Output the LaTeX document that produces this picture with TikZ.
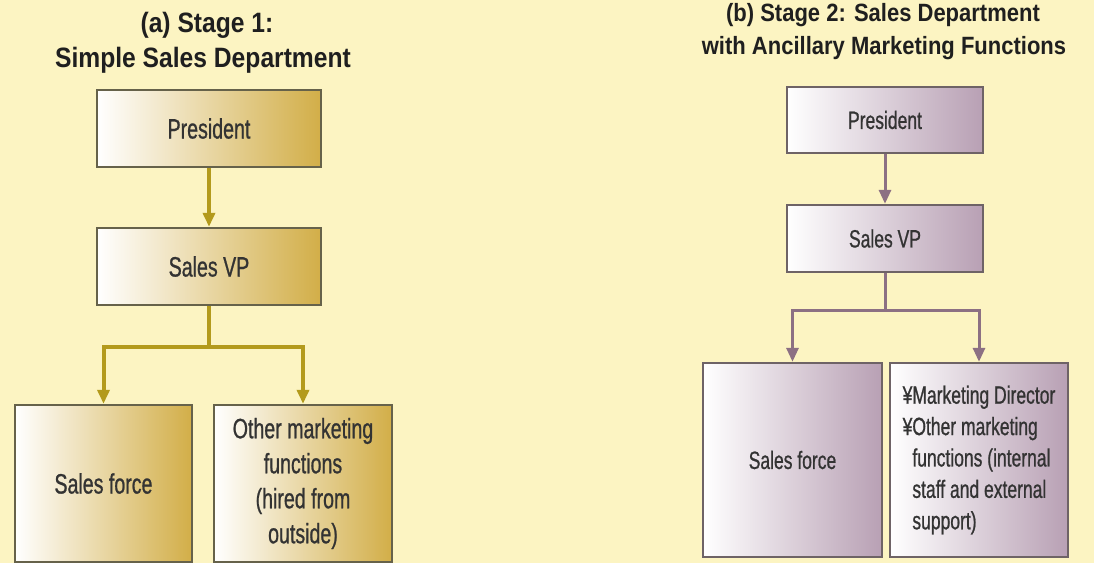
\documentclass[tikz,border=0pt]{standalone}
\usepackage{fontspec}
\setmainfont{Liberation Sans}
\newfontfamily\titlefont[FakeStretch=0.88]{Liberation Sans}
\newfontfamily\boxfont[FakeStretch=0.7,FakeBold=0.8]{Liberation Sans}
\usetikzlibrary{arrows.meta}

\definecolor{bgyellow}{HTML}{FCF4C2}
\definecolor{goldA}{HTML}{D2AE48}
\definecolor{arrowA}{HTML}{B39A1C}
\definecolor{edgeA}{HTML}{66624A}
\definecolor{mauveB}{HTML}{B8A0B4}
\definecolor{arrowB}{HTML}{8C7083}
\definecolor{edgeB}{HTML}{6E6366}

\begin{document}
\begin{tikzpicture}[x=0.5pt,y=-0.5pt,>={Triangle[length=7pt,width=6pt]},
    title/.style={font=\titlefont\bfseries\fontsize{14}{17}\selectfont,text=black!88},
    titleB/.style={font=\titlefont\bfseries\fontsize{12.5}{15}\selectfont,text=black!88},
    boxA/.style={draw=edgeA,line width=1.2pt,left color=white,middle color=goldA!45!white,
      right color=goldA,inner sep=2pt,align=center,text=black!80,
      font=\boxfont\fontsize{14}{17.5}\selectfont},
    boxB/.style={draw=edgeB,line width=1.2pt,left color=white,middle color=mauveB!40!white,
      right color=mauveB,inner sep=2pt,align=center,text=black!80,
      font=\boxfont\fontsize{12.5}{15.7}\selectfont},
    linkA/.style={draw=arrowA,line width=2pt,->},
    linkB/.style={draw=arrowB,line width=1.5pt,->}]
    \fill[bgyellow] (0,0) rectangle (1094,563);
    \useasboundingbox (0,0) rectangle (1094,563);

    % (a) stage 1
    \node[title] (ta1) at (207,25) {(a) Stage 1:};
    \node[title] (ta2) at (203,60) {Simple Sales Department};
    \node[boxA,minimum width=112pt,minimum height=38.5pt] (pres1) at (209,128.5) {President};
    \node[boxA,minimum width=112pt,minimum height=38.5pt] (vp1)   at (209,266.5) {Sales VP};
    \node[boxA,minimum width=88.5pt,minimum height=78.5pt] (sf1) at (103.5,483.5) {Sales force};
    \node[boxA,minimum width=89pt,minimum height=78.5pt]   (om1) at (303,483.5)
      {Other marketing\\functions\\(hired from\\outside)};
    \coordinate (j1) at (209,347);
    \draw[linkA] (pres1) -- (vp1);
    \draw[linkA] (vp1.south) -- (j1) -| (sf1.north);
    \draw[linkA] (j1) -| (om1.north);

    % (b) stage 2
    \node[titleB] (tb1) at (883,15) {(b) Stage 2: Sales Department};
    \node[titleB] (tb2) at (884,48) {with Ancillary Marketing Functions};
    \node[boxB,minimum width=98pt,minimum height=33pt] (pres2) at (885,120) {President};
    \node[boxB,minimum width=98pt,minimum height=33.5pt] (vp2) at (885,238.5) {Sales VP};
    \node[boxB,minimum width=89.5pt,minimum height=97pt] (sf2) at (792.5,460) {Sales force};
    \node[boxB,minimum width=89pt,minimum height=97pt,align=left] (om2) at (979,460)
      {¥Marketing Director\\¥Other marketing\\\phantom{¥}functions (internal\\\phantom{¥}staff and external\\\phantom{¥}support)};
    \coordinate (j2) at (885,310);
    \draw[linkB] (pres2) -- (vp2);
    \draw[linkB] (vp2.south) -- (j2) -| (sf2.north);
    \draw[linkB] (j2) -| (om2.north);
\end{tikzpicture}
\end{document}
